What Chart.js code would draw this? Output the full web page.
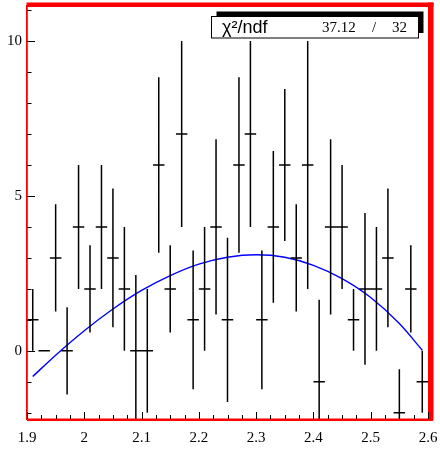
<!DOCTYPE html>
<html>
<head>
<meta charset="utf-8">
<script src="https://cdn.jsdelivr.net/npm/chart.js"></script>
<style>
  html, body { margin: 0; padding: 0; background: #fff; }
  #c { display: block; }
</style>
</head>
<body>
<canvas id="c" width="440" height="450"></canvas>
<script>
// histograma: centros de bin, contenido y error
const binCenters = [1.91, 1.93, 1.95, 1.97, 1.99, 2.01, 2.03, 2.05, 2.07, 2.09,
  2.11, 2.13, 2.15, 2.17, 2.19, 2.21, 2.23, 2.25, 2.27, 2.29,
  2.31, 2.33, 2.35, 2.37, 2.39, 2.41, 2.43, 2.45, 2.47, 2.49,
  2.51, 2.53, 2.55, 2.57, 2.59];
const binValues = [1, 0, 3, 0, 4, 2, 4, 3, 2, 0,
  0, 6, 2, 7, 1, 2, 4, 1, 6, 7,
  1, 4, 6, 3, 6, -1, 4, 4, 1, 2,
  2, 3, -2, 2, -1];
const binErrors = [1, 0, 1.73, 1.41, 2, 1.41, 2, 2.24, 2, 2.45,
  2, 2.83, 1.41, 3, 2.24, 2, 2.83, 2.65, 2.83, 3,
  2.24, 2.45, 2.45, 1.73, 4, 2.65, 2.83, 2, 1, 2.45,
  2, 2.24, 1.41, 1.41, 1];
const binWidth = 0.02;

// curva del ajuste
const fitX = [1.91, 1.95, 2.00, 2.05, 2.10, 2.15, 2.20, 2.25, 2.30, 2.35, 2.40, 2.45, 2.50, 2.55, 2.59];
const fitY = [-0.83, -0.14, 0.65, 1.35, 1.95, 2.43, 2.80, 3.02, 3.10, 3.02, 2.76, 2.33, 1.72, 0.88, 0.02];

// ejes
const xTickLabels = [1.9, 2.0, 2.1, 2.2, 2.3, 2.4, 2.5, 2.6];
const yTickLabels = [0, 5, 10];
const xRange = [1.9, 2.6];
const yRange = [-2.2, 11.1];

// caja de estadística
const statLabel = 'χ²/ndf';
const statChi2 = '37.12';
const statNdf = '32';

function buildErrorBars() {
  const pts = [];
  binCenters.forEach((x, i) => {
    const v = binValues[i], e = binErrors[i];
    if (e > 0) {
      pts.push({ x: x, y: v - e }, { x: x, y: v + e }, { x: x, y: null });
    }
    pts.push({ x: x - binWidth / 2, y: v }, { x: x + binWidth / 2, y: v }, { x: x, y: null });
  });
  return pts;
}

const rootFrame = {
  id: 'rootFrame',
  afterDatasetsDraw(chart) {
    const ctx = chart.ctx;
    const a = chart.chartArea;
    const xs = chart.scales.x, ys = chart.scales.y;
    ctx.save();
    // marco rojo
    ctx.fillStyle = '#ff0000';
    ctx.fillRect(a.left - 0.5, a.top - 4.5, a.right - a.left + 6, 4.5);
    ctx.fillRect(a.right, a.top - 4.5, 5.5, a.bottom - a.top + 6);
    ctx.fillRect(a.left, a.bottom - 0.5, a.right - a.left + 5, 2.5);
    ctx.fillRect(a.left - 1, a.top - 2, 1.8, a.bottom - a.top + 3);

    // marcas de los ejes hacia dentro
    ctx.strokeStyle = '#000';
    ctx.lineWidth = 1;
    ctx.beginPath();
    for (let k = -2; k <= 11; k++) {
      const py = Math.round(ys.getPixelForValue(k)) + 0.5;
      const len = (k % 5 === 0) ? 8 : 4.5;
      ctx.moveTo(a.left, py);
      ctx.lineTo(a.left + len, py);
    }
    for (let k = 0; k <= 28; k++) {
      const v = xRange[0] + k * 0.025;
      const px = Math.round(xs.getPixelForValue(v)) + 0.5;
      const len = (k % 4 === 0) ? 7 : 4;
      ctx.moveTo(px, a.bottom);
      ctx.lineTo(px, a.bottom - len);
    }
    ctx.stroke();

    // caja chi2/ndf con sombra
    const bx = 211.5, by = 16.5, bw = 207, bh = 21.5;
    ctx.fillStyle = '#000';
    ctx.fillRect(bx + 5, by - 5, bw, bh);
    ctx.fillStyle = '#fff';
    ctx.fillRect(bx, by, bw, bh);
    ctx.strokeStyle = '#000';
    ctx.lineWidth = 1;
    ctx.strokeRect(bx, by, bw, bh);
    ctx.fillStyle = '#000';
    ctx.textBaseline = 'alphabetic';
    ctx.textAlign = 'left';
    ctx.font = '18px "Liberation Sans", sans-serif';
    ctx.fillText(statLabel, 222, 33);
    ctx.font = '15px "Liberation Serif", serif';
    ctx.fillText(statChi2, 322, 32);
    ctx.fillText('/', 372, 32);
    ctx.fillText(statNdf, 392, 32);
    ctx.restore();
  }
};

const serif = { family: '"Liberation Serif", "Times New Roman", serif', size: 15 };

new Chart(document.getElementById('c'), {
  type: 'scatter',
  data: {
    datasets: [
      {
        label: 'datos',
        data: buildErrorBars(),
        showLine: true,
        spanGaps: false,
        borderColor: '#000',
        borderWidth: 1.5,
        pointRadius: 0,
        tension: 0
      },
      {
        label: 'ajuste',
        data: fitX.map((x, i) => ({ x: x, y: fitY[i] })),
        showLine: true,
        borderColor: '#0000ff',
        borderWidth: 1.4,
        pointRadius: 0,
        cubicInterpolationMode: 'monotone'
      }
    ]
  },
  options: {
    responsive: false,
    animation: false,
    devicePixelRatio: 1,
    layout: { padding: { top: 7, right: 12, left: 0, bottom: 0 } },
    plugins: { legend: { display: false }, tooltip: { enabled: false } },
    scales: {
      x: {
        type: 'linear',
        min: xRange[0], max: xRange[1],
        grid: { display: false, drawTicks: false },
        border: { display: false },
        afterBuildTicks: s => { s.ticks = xTickLabels.map(v => ({ value: v })); },
        afterFit: s => { s.height = 31; s.paddingLeft = 0; s.paddingRight = 0; },
        ticks: {
          color: '#000', font: serif, padding: 10, maxRotation: 0,
          callback: v => String(Number(v.toFixed(1)))
        }
      },
      y: {
        type: 'linear',
        min: yRange[0], max: yRange[1],
        grid: { display: false, drawTicks: false },
        border: { display: false },
        afterBuildTicks: s => { s.ticks = yTickLabels.map(v => ({ value: v })); },
        afterFit: s => { s.width = 27; s.paddingTop = 0; s.paddingBottom = 0; },
        ticks: { color: '#000', font: serif, padding: 5, callback: v => String(v) }
      }
    }
  },
  plugins: [rootFrame]
});
</script>
</body>
</html>
